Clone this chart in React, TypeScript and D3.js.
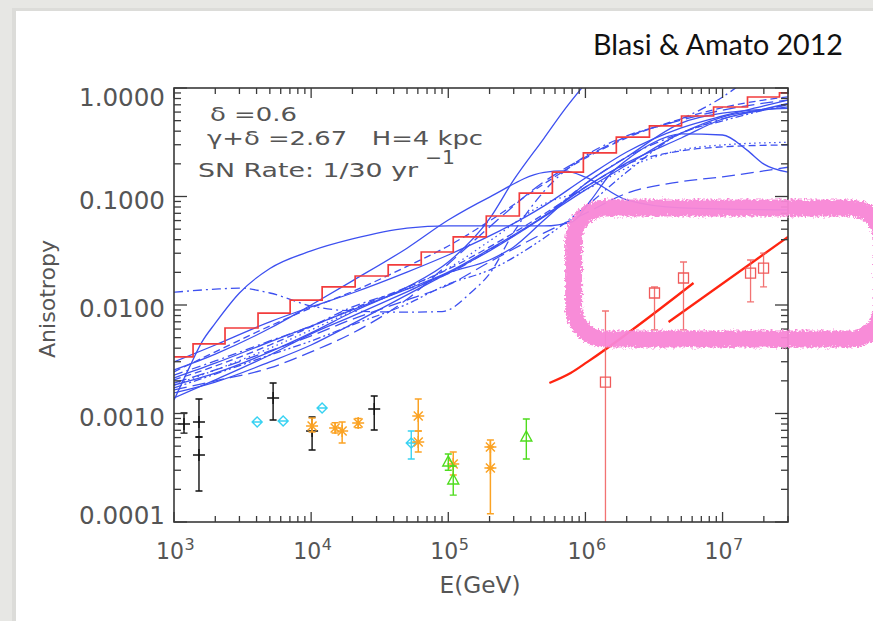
import React from 'react';
import * as d3 from 'd3';

const W = 873;
const H = 621;
const M = { left: 174, right: 788, top: 88, bottom: 522 };

const xDomain = [1e3, 3e7];
const yDomain = [1e-4, 1];
const xMajorExponents = ['3', '4', '5', '6', '7'];
const xMajorValues = [1e3, 1e4, 1e5, 1e6, 1e7];
const yTickValues = [1e-4, 1e-3, 1e-2, 1e-1, 1];
const yTickLabels = ['0.0001', '0.0010', '0.0100', '0.1000', '1.0000'];

// red histogram (mean anisotropy) : bin edges (GeV) and levels
const stepEdges = [1000, 1377, 2355, 4100, 7030, 12030, 20940, 36470, 63500, 108700, 189300, 329600, 574000, 966000, 1.68e6, 2.93e6, 5.02e6, 8.6e6, 1.52e7, 2.6e7, 3e7];
const stepLevels = [0.00332, 0.00438, 0.00614, 0.00843, 0.0111, 0.0147, 0.0185, 0.0234, 0.0308, 0.0424, 0.0661, 0.1076, 0.168, 0.252, 0.353, 0.447, 0.552, 0.668, 0.826, 0.90];

// blue realisations [E (GeV), anisotropy]
const curveC1 = [[1e3, 0.00133], [1.3e3, 0.00269], [1.6e3, 0.00457], [2e3, 0.0068], [3e3, 0.0129], [5e3, 0.0217], [1e4, 0.0315], [2e4, 0.0406], [5e4, 0.0511], [1e5, 0.0536], [3e5, 0.0536], [5e5, 0.0536], [8e5, 0.0585], [1.1e6, 0.0929], [1.5e6, 0.158], [2e6, 0.217], [3e6, 0.305], [5e6, 0.377], [1e7, 0.369], [1.5e7, 0.269], [2e7, 0.199], [3e7, 0.168]];
const curveC2 = [[1e3, 0.00183], [2e3, 0.00236], [5e3, 0.0037], [1e4, 0.00553], [2e4, 0.00862], [5e4, 0.0146], [1e5, 0.0249], [2e5, 0.0624], [3e5, 0.142], [5e5, 0.346], [7e5, 0.626], [1e6, 1.10]];
const curveC3 = [[1e3, 0.00252], [2e3, 0.00353], [5e3, 0.0061], [1e4, 0.0100], [2e4, 0.0167], [5e4, 0.0334], [1e5, 0.0607], [2e5, 0.0988], [5e5, 0.167], [7e5, 0.172], [1e6, 0.151], [2e6, 0.0929], [5e6, 0.0785], [3e7, 0.0752]];
const curveL1 = [[1e3, 0.00299], [2e3, 0.00428], [5e3, 0.0070], [1e4, 0.0096], [2e4, 0.0129], [5e4, 0.0201], [1e5, 0.0289], [2e5, 0.0433], [5e5, 0.0820], [1e6, 0.148], [2e6, 0.257], [5e6, 0.429], [1e7, 0.552], [2e7, 0.683], [3e7, 0.774]];
const curveL2 = [[1e3, 0.00213], [2e3, 0.00291], [5e3, 0.00457], [1e4, 0.0064], [2e4, 0.0090], [5e4, 0.0140], [1e5, 0.0201], [2e5, 0.0327], [5e5, 0.0661], [1e6, 0.122], [2e6, 0.204], [5e6, 0.346], [1e7, 0.518], [2e7, 0.626], [3e7, 0.67]];
const curveL3 = [[1e3, 0.00155], [2e3, 0.00195], [5e3, 0.00299], [1e4, 0.00428], [2e4, 0.0067], [5e4, 0.0124], [1e5, 0.0197], [2e5, 0.0315], [5e5, 0.0650], [1e6, 0.115], [2e6, 0.195], [5e6, 0.384], [1e7, 0.54], [2e7, 0.64], [3e7, 0.72]];
const curveL4 = [[1e3, 0.00139], [2e3, 0.00204], [5e3, 0.00346], [1e4, 0.00542], [2e4, 0.0079], [5e4, 0.0132], [1e5, 0.0197], [2e5, 0.0260], [3e5, 0.0343], [5e5, 0.0607], [1e6, 0.131], [2e6, 0.231], [5e6, 0.475], [1e7, 0.586], [3e7, 0.65]];
const curveDash1 = [[1e3, 0.00242], [2e3, 0.0037], [5e3, 0.0064], [1e4, 0.0094], [2e4, 0.0133], [5e4, 0.0227], [1e5, 0.0350], [2e5, 0.0595], [5e5, 0.131], [1e6, 0.226], [2e6, 0.347], [5e6, 0.52], [1e7, 0.66], [3e7, 0.83]];
const curveDash2 = [[1e3, 0.00191], [2e3, 0.00252], [5e3, 0.00378], [1e4, 0.0052], [2e4, 0.0074], [5e4, 0.0111], [1e5, 0.0153], [2e5, 0.0249], [5e5, 0.0462], [1e6, 0.070], [2e6, 0.107], [5e6, 0.137], [1e7, 0.152], [3e7, 0.186]];
const curveDash3 = [[1e3, 0.00204], [2e3, 0.00274], [5e3, 0.00428], [1e4, 0.0063], [2e4, 0.0092], [5e4, 0.0146], [1e5, 0.0214], [2e5, 0.0343], [5e5, 0.0690], [1e6, 0.122], [2e6, 0.199], [5e6, 0.263], [1e7, 0.287], [3e7, 0.299]];
const curveDash4 = [[1e3, 0.00165], [2e3, 0.0020], [5e3, 0.00263], [1e4, 0.0037], [2e4, 0.0055], [5e4, 0.0113], [1e5, 0.0239], [2e5, 0.0524], [5e5, 0.137], [1e6, 0.231], [2e6, 0.355], [5e6, 0.507], [1e7, 0.626], [3e7, 0.774]];
const curveDot1 = [[1e3, 0.00183], [2e3, 0.00252], [5e3, 0.0040], [1e4, 0.00589], [2e4, 0.0088], [5e4, 0.0143], [1e5, 0.0218], [2e5, 0.0389], [5e5, 0.0854], [1e6, 0.115], [2e6, 0.183], [5e6, 0.269], [1e7, 0.299], [3e7, 0.316]];
const curveD1 = [[1e3, 0.0131], [2e3, 0.0140], [3e3, 0.0143], [5e3, 0.0129], [1e4, 0.0098], [2e4, 0.0088], [5e4, 0.0086], [9e4, 0.0087], [1.5e5, 0.0134], [2e5, 0.0194], [3e5, 0.0469], [5e5, 0.112], [1e6, 0.237], [2e6, 0.362], [5e6, 0.52], [1e7, 0.826], [1.5e7, 1.19]];
const curveD2 = [[1e3, 0.00226], [2e3, 0.00305], [5e3, 0.00466], [1e4, 0.0064], [2e4, 0.0096], [5e4, 0.0140], [1e5, 0.0194], [2e5, 0.0321], [5e5, 0.0661], [1e6, 0.131], [2e6, 0.231], [5e6, 0.384], [1e7, 0.52], [3e7, 0.696]];
const curveD3 = [[1e3, 0.00172], [2e3, 0.00231], [5e3, 0.00346], [1e4, 0.00466], [2e4, 0.00655], [5e4, 0.0102], [1e5, 0.0156], [2e5, 0.0210], [5e5, 0.0415], [1e6, 0.080], [2e6, 0.168], [5e6, 0.384], [1e7, 0.497], [3e7, 0.71]];

const DASH = '7,4';
const LONGDASH = '13,6';
const DOT = '1.5,3.5';
const DASHDOT = '9,4,2,4';
const DASHDOTDOT = '8,3,2,3,2,3';

const modelCurves = [
  { pts: curveC1, dash: null },
  { pts: curveC2, dash: null },
  { pts: curveC3, dash: null },
  { pts: curveL1, dash: null },
  { pts: curveL2, dash: null },
  { pts: curveL3, dash: null },
  { pts: curveL4, dash: null },
  { pts: curveDash1, dash: DASH },
  { pts: curveDash2, dash: LONGDASH },
  { pts: curveDash3, dash: DASH },
  { pts: curveDash4, dash: LONGDASH },
  { pts: curveDot1, dash: DOT },
  { pts: curveD1, dash: DASHDOT },
  { pts: curveD2, dash: DASHDOT },
  { pts: curveD3, dash: DASHDOTDOT },
];

// measurements: [E, value, lower, upper]
const blackPoints = [[1183, 8.0e-4, 6.6e-4, 1.01e-3], [1521, 8.36e-4, 6.07e-4, 1.36e-3], [1521, 4.15e-4, 1.93e-4, 6.07e-4], [5280, 1.39e-3, 8.7e-4, 1.91e-3], [10160, 6.9e-4, 4.61e-4, 9.29e-4], [28840, 1.10e-3, 7.05e-4, 1.45e-3]];
const cyanPoints = [[4040, 8.36e-4, 8.36e-4, 8.36e-4], [6250, 8.53e-4, 8.53e-4, 8.53e-4], [12020, 1.125e-3, 1.125e-3, 1.125e-3], [53700, 5.34e-4, 3.81e-4, 6.9e-4]];
const orangePoints = [[10160, 7.67e-4, 6.75e-4, 9.1e-4], [14960, 7.35e-4, 6.6e-4, 8.2e-4], [16830, 6.9e-4, 5.34e-4, 8.36e-4], [22030, 8.17e-4, 7.4e-4, 9.0e-4], [60400, 9.49e-4, 6.9e-4, 1.36e-3], [60400, 5.46e-4, 4.42e-4, 6.9e-4], [108700, 3.43e-4, 2.71e-4, 4.42e-4], [202800, 4.91e-4, 3.15e-4, 5.7e-4], [202800, 3.15e-4, 1.19e-4, 4.91e-4]];
const greenPoints = [[100000, 3.57e-4, 3.0e-4, 4.24e-4], [108700, 2.44e-4, 1.77e-4, 3.28e-4], [370700, 6.07e-4, 3.81e-4, 8.89e-4]];
const redPoints = [[1.40e6, 1.95e-3, 5e-5, 8.8e-3], [3.19e6, 0.0129, 5.89e-3, 0.01466], [5.19e6, 0.01774, 5.89e-3, 0.0249], [1.60e7, 0.0197, 0.01067, 0.026], [1.99e7, 0.0219, 0.01466, 0.0301]];

// red fit lines
const fitLine1 = [[5.46e5, 1.91e-3], [7.8e5, 2.36e-3], [1.035e6, 2.99e-3], [6.14e6, 0.01596]];
const fitLine2 = [[4.04e6, 6.97e-3], [3.0e7, 0.0424]];

// pink highlight box (data space)
const pinkBox = { eMin: 8.2e5, eMax: 1.45e8, aMin: 0.00485, aMax: 0.0785 };

const BLUE = '#3d50f0';
const AXIS = '#3a3a3a';
const TXT = '#555555';

function markerPath(kind: string, cx: number, cy: number): string {
  const s = 6;
  switch (kind) {
    case 'plus':
      return `M${cx - s},${cy}H${cx + s}M${cx},${cy - s}V${cy + s}`;
    case 'diamond':
      return `M${cx},${cy - 5}L${cx + 5},${cy}L${cx},${cy + 5}L${cx - 5},${cy}ZM${cx - 5},${cy}H${cx + 5}`;
    case 'asterisk': {
      const d = s * 0.75;
      return `M${cx - s},${cy}H${cx + s}M${cx},${cy - s}V${cy + s}M${cx - d},${cy - d}L${cx + d},${cy + d}M${cx - d},${cy + d}L${cx + d},${cy - d}`;
    }
    case 'triangle':
      return `M${cx},${cy - 6}L${cx + 5.5},${cy + 4}L${cx - 5.5},${cy + 4}Z`;
    case 'square':
      return `M${cx - 5},${cy - 5}H${cx + 5}V${cy + 5}H${cx - 5}Z`;
    default:
      return '';
  }
}

export default function App() {
  const x = d3.scaleLog().domain(xDomain).range([M.left, M.right]);
  const y = d3.scaleLog().domain(yDomain).range([M.bottom, M.top]);

  const smooth = d3
    .line<number[]>()
    .x((d) => x(d[0]))
    .y((d) => y(d[1]))
    .curve(d3.curveMonotoneX);
  const straight = d3
    .line<number[]>()
    .x((d) => x(d[0]))
    .y((d) => y(d[1]));
  const stepLine = d3
    .line<number[]>()
    .x((d) => x(d[0]))
    .y((d) => y(d[1]))
    .curve(d3.curveStepAfter);
  const stepPts = stepEdges.map((e, i) => [e, stepLevels[Math.min(i, stepLevels.length - 1)]]);

  const xt = x.ticks();
  const yt = y.ticks();
  const isMajor = (v: number) => Math.abs(Math.log10(v) - Math.round(Math.log10(v))) < 1e-6;

  const pointGroups = [
    { pts: blackPoints, kind: 'plus', color: '#111111', w: 1.4 },
    { pts: cyanPoints, kind: 'diamond', color: '#38d2f2', w: 1.4 },
    { pts: orangePoints, kind: 'asterisk', color: '#fba324', w: 1.5 },
    { pts: greenPoints, kind: 'triangle', color: '#4fdc1e', w: 1.4 },
    { pts: redPoints, kind: 'square', color: '#f05a5a', w: 1.3 },
  ];

  const px0 = x(pinkBox.eMin);
  const px1 = x(pinkBox.eMax);
  const py0 = y(pinkBox.aMax);
  const py1 = y(pinkBox.aMin);

  return (
    <svg
      width={W}
      height={H}
      viewBox={`0 0 ${W} ${H}`}
      style={{ position: 'absolute', left: 0, top: 0, display: 'block' }}
    >
      <defs>
        <clipPath id="plotClip">
          <rect x={M.left} y={M.top} width={M.right - M.left} height={M.bottom - M.top} />
        </clipPath>
        <filter id="rough" x="-5%" y="-20%" width="110%" height="140%">
          <feTurbulence type="fractalNoise" baseFrequency="0.45" numOctaves="2" seed="4" result="noise" />
          <feDisplacementMap in="SourceGraphic" in2="noise" scale="7" xChannelSelector="R" yChannelSelector="G" />
        </filter>
      </defs>

      {/* slide background */}
      <rect x={0} y={0} width={W} height={H} fill="#e7e7e4" />
      <rect x={12} y={8} width={W} height={H} fill="#dcdcd9" />
      <rect x={16} y={11} width={W} height={H} fill="#ffffff" />

      {/* title */}
      <text
        x={593}
        y={55}
        fontFamily="Lato, 'Open Sans', sans-serif"
        fontSize={28}
        fill="#111"
        textLength={250}
        lengthAdjust="spacingAndGlyphs"
      >
        Blasi &amp; Amato 2012
      </text>

      {/* model curves */}
      <g clipPath="url(#plotClip)" fill="none">
        {modelCurves.map((c, i) => (
          <path
            key={i}
            d={smooth(c.pts) || ''}
            stroke={BLUE}
            strokeWidth={1.3}
            strokeDasharray={c.dash || undefined}
          />
        ))}
        <path d={stepLine(stepPts) || ''} stroke="#f23c3c" strokeWidth={1.7} />
        <path d={smooth(fitLine1) || ''} stroke="#ff2410" strokeWidth={2.3} />
        <path d={straight(fitLine2) || ''} stroke="#ff2410" strokeWidth={2.3} />

        {/* data points */}
        {pointGroups.map((g, gi) => (
          <g key={gi} stroke={g.color} strokeWidth={g.w} fill="none">
            {g.pts.map((p, i) => {
              const cx = x(p[0]);
              const cy = y(p[1]);
              const lo = y(p[2]);
              const hi = y(p[3]);
              const hasBar = p[2] !== p[3];
              return (
                <g key={i}>
                  {hasBar && (
                    <path
                      d={`M${cx},${hi}V${lo}M${cx - 3.5},${hi}H${cx + 3.5}M${cx - 3.5},${lo}H${cx + 3.5}`}
                      opacity={g.kind === 'square' ? 0.85 : 1}
                    />
                  )}
                  <path d={markerPath(g.kind, cx, cy)} />
                </g>
              );
            })}
          </g>
        ))}
      </g>

      {/* frame */}
      <rect
        x={M.left}
        y={M.top}
        width={M.right - M.left}
        height={M.bottom - M.top}
        fill="none"
        stroke={AXIS}
        strokeWidth={1.6}
      />
      <g stroke={AXIS} strokeWidth={1.3}>
        {xt.map((t, i) => {
          const len = isMajor(t) ? 10 : 6;
          const xx = x(t);
          return (
            <g key={'xt' + i}>
              <line x1={xx} x2={xx} y1={M.bottom} y2={M.bottom - len} />
              <line x1={xx} x2={xx} y1={M.top} y2={M.top + len} />
            </g>
          );
        })}
        {yt.map((t, i) => {
          const len = isMajor(t) ? 13 : 7;
          const yy = y(t);
          return (
            <g key={'yt' + i}>
              <line x1={M.left} x2={M.left + len} y1={yy} y2={yy} />
              <line x1={M.right} x2={M.right - len} y1={yy} y2={yy} />
            </g>
          );
        })}
      </g>

      {/* axis labels and annotations */}
      <g fontFamily="'DejaVu Sans', sans-serif" fill={TXT}>
        {yTickValues.map((v, i) => {
          const yy = Math.min(Math.max(y(v) + 3, 97), 515) + 9;
          return (
            <text key={i} x={165} y={yy} fontSize={24} textAnchor="end" textLength={86} lengthAdjust="spacingAndGlyphs">
              {yTickLabels[i]}
            </text>
          );
        })}
        {xMajorValues.map((v, i) => {
          const xx = x(v);
          return (
            <g key={i}>
              <text x={xx + 10} y={559} fontSize={23} textAnchor="end" textLength={28} lengthAdjust="spacingAndGlyphs">
                10
              </text>
              <text x={xx + 10.5} y={550} fontSize={16}>
                {xMajorExponents[i]}
              </text>
            </g>
          );
        })}
        <text x={480} y={593} fontSize={23} textAnchor="middle" textLength={81} lengthAdjust="spacingAndGlyphs">
          E(GeV)
        </text>
        <text
          transform="translate(55,299) rotate(-90)"
          fontSize={21}
          textAnchor="middle"
          textLength={118}
          lengthAdjust="spacingAndGlyphs"
        >
          Anisotropy
        </text>

        <text x={210} y={121} fontSize={20} textLength={87} lengthAdjust="spacingAndGlyphs" style={{ whiteSpace: 'pre' }}>
          {'δ =0.6'}
        </text>
        <text x={207} y={145} fontSize={20} textLength={276} lengthAdjust="spacingAndGlyphs" style={{ whiteSpace: 'pre' }}>
          {'γ+δ =2.67   H=4 kpc'}
        </text>
        <text x={198} y={177} fontSize={20} textLength={220} lengthAdjust="spacingAndGlyphs" style={{ whiteSpace: 'pre' }}>
          {'SN Rate: 1/30 yr'}
        </text>
        <text x={425} y={164} fontSize={19} textLength={30} lengthAdjust="spacingAndGlyphs">
          {'−1'}
        </text>
      </g>

      {/* pink highlight */}
      <g filter="url(#rough)">
        <rect
          x={px0}
          y={py0}
          width={px1 - px0}
          height={py1 - py0}
          rx={32}
          ry={32}
          fill="none"
          stroke="#f887d6"
          strokeWidth={17}
          opacity={0.95}
        />
      </g>
    </svg>
  );
}
